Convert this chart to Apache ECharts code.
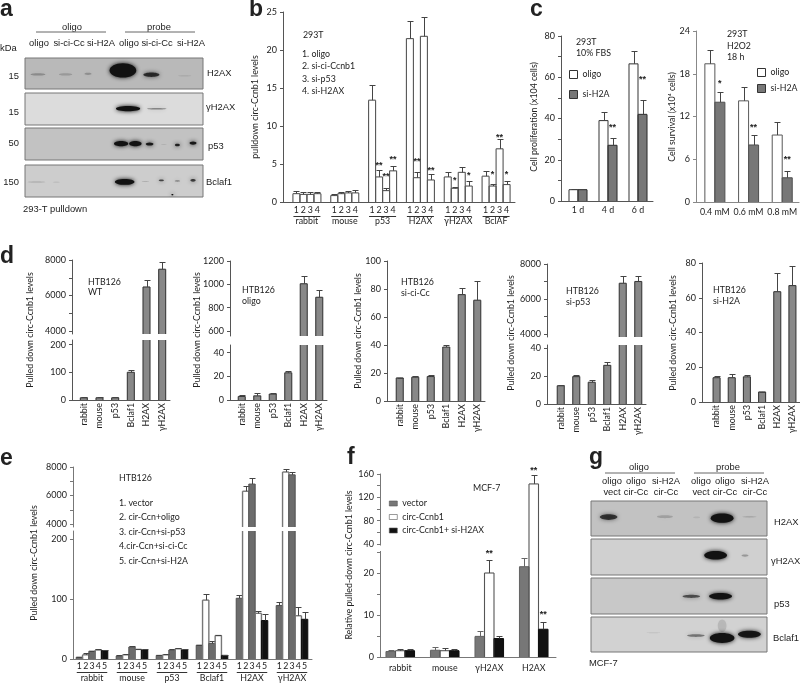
<!DOCTYPE html>
<html><head><meta charset="utf-8">
<style>html,body{margin:0;padding:0;background:#fff}#c{width:800px;height:684px;filter:blur(.35px)}</style>
<script src="https://cdn.jsdelivr.net/npm/echarts@6/dist/echarts.min.js"></script>
</head><body><div id="c"></div>
<script>
// ---------- data ----------
const bCats=['rabbit','mouse','p53','H2AX','γH2AX','BclAF'];
const bOligo=[1.1,.85,13.4,21.5,3.3,3.4], bOligoTop=[1.4,1.05,15.4,23.8,4,4.1];
const bSiCc=[1,1.1,3.3,3.2,1.8,2.1], bSiCcTop=[1.3,1.3,4.2,3.9,2,2.4];
const bSiP53=[1,1.2,1.5,21.8,3.9,7], bSiP53Top=[1.3,1.4,1.9,24.3,4.6,8.3];
const bSiH2A=[1.1,1.2,4.1,2.9,2.1,2.3], bSiH2ATop=[1.3,1.55,4.7,3.7,2.8,2.7];
const bStars=[[1,2,'**',5.1],[2,2,'**',3.6],[3,2,'**',5.9],[1,3,'**',5.6],[3,3,'**',4.4],[1,4,'*',3.15],[3,4,'*',3.7],[1,5,'*',3.9],[2,5,'**',8.75],[3,5,'*',3.9]];
const cDays=['1 d','4 d','6 d'];
const cDayOligo=[5.5,39,66.5], cDayOligoTop=[6,43,72.5];
const cDaySi=[5.5,27,42], cDaySiTop=[6,30.5,49];
const cDayStars=[[1,1,'**',36.8],[1,2,'**',60]];
const cDoses=['0.4 mM','0.6 mM','0.8 mM'];
const cDoseOligo=[19.4,14.2,9.4], cDoseOligoTop=[21.4,16.1,11.2];
const cDoseSi=[14,8,3.4], cDoseSiTop=[15.4,9.4,4.3];
const cDoseStars=[[1,0,'*',16.9],[1,1,'**',10.8],[1,2,'**',6.2]];
const dCats=['rabbit','mouse','p53','Bclaf1','H2AX','γH2AX'];
const dWT=[8,8,8,100,6480,7480], dWTTop=[10,10,10,108,6890,7870];
const dOligo=[3,3.5,5,23,1005,889], dOligoTop=[4,5.5,5.5,24.5,1075,949];
const dSiCc=[16.5,17,17.5,38.5,76,72], dSiCcTop=[16.7,18,18.5,39.8,80.5,86];
const dSiP53=[13,19.5,15.5,27.5,6900,7000], dSiP53Top=[13.5,20.5,17,30,7300,7300];
const dSiH2A=[14,14,14.5,5.8,63.5,67], dSiH2ATop=[15,16,15.5,6,74,78];
const eCats=['rabbit','mouse','p53','Bclaf1','H2AX','γH2AX'];
const e1=[3,5,6,23,101,89], e1Top=[4,6,7,24,107,95];
const e2=[7,7,7,98,6300,7650], e2Top=[10,8,8,108,6650,7870];
const e3=[13,20,15,26,6800,7450], e3Top=[14,21,16,30,7200,7620];
const e4=[15,16,17,39,76,72], e4Top=[16,17,18,40,80,87];
const e5=[14,15,15,6,64,66], e5Top=[15,16,16,7,75,78];
const fCats=['rabbit','mouse','γH2AX','H2AX'];
const fVector=[1.3,1.6,4.9,21.5], fVectorTop=[1.6,2.3,6.3,23.5];
const fCirc=[1.5,1.5,20,143], fCircTop=[2,2.1,23,159];
const fCircSi=[1.5,1.5,4.4,6.6], fCircSiTop=[1.9,1.9,5.1,8.4];
const fStars=[[1,2,'**',25],[2,3,'**',10.7]];
const fStarsUpper=[[1,3,'**',170]];
// western-blot bands: lane %, height %, half width %, half height %, darkness
const aH2AX=[[7.3,53,4.1,3.5,.26],[22.8,53,3.7,3.5,.18],[35.4,51,2,3.5,.24],[55,40,7.5,23,1],[71,54,4.5,7,.8],[89.7,57,3.7,2.5,.08]];
const aGH2AX=[[57.9,49,6.8,8,1],[74,49,5.5,2.5,.4]];
const aP53=[[54,49,4,8,1],[62,49,3.5,8,1],[70,50,2.2,5,.95],[78,52,1.5,1.5,.12],[85.6,53,1.4,4,.9],[94.4,47,2,5,.95]];
const aBclaf=[[6.4,53,5,2.5,.14],[17.6,54,2,2.5,.07],[56,53,5.5,9,1],[67.6,52,2,1.5,.2],[76.6,48,1.5,3,.7],[85.6,50,1.5,2,.4],[94.4,48,1.5,4,.75],[82.8,93,.6,2,1]];
const gH2AX=[[10,46,5,8,.75],[42,45,4.5,4,.18],[60,47,2,2.5,.08],[74.5,49,6.5,13,1],[90,45,4,2.5,.14]];
const gGH2AX=[[70.8,45,6.5,12,1],[87.5,46,2,3,.28]];
const gP53=[[57,51,5,4.5,.62],[73.6,51,6.5,9,1]];
const gBclaf=[[35.5,45,4,1.5,.08],[59.6,53,5,4,.45],[74.5,25,2.5,18,.12],[74.5,60,7,14,1],[90,49,6.5,10,.95]];

// ---------- builders ----------
const SANS='Lato,"DejaVu Sans",sans-serif', ARIAL='"Liberation Sans",sans-serif', BASE=8.8;
const grid=[],xAxis=[],yAxis=[],series=[],gfx=[],legend=[];
function T(text,x,y,o={}){gfx.push({type:'text',x,y,rotation:o.rot||0,silent:true,z:20,style:{text,fill:o.color||'#222',font:(o.bold?'bold ':'')+(o.size||BASE)+'px '+(o.font||SANS),textAlign:o.align||'left',textVerticalAlign:'middle'}});}
function A(text,x,y,o={}){T(text,x,y,Object.assign({font:ARIAL,size:9.4},o));}
function L(x1,y1,x2,y2,c='#555',w=1){gfx.push({type:'line',silent:true,z:20,shape:{x1,y1,x2,y2},style:{stroke:c,lineWidth:w}});}
function blot(left,top,w,h,bg,bands){
  const i=grid.length;
  grid.push({left,top,width:w,height:h,show:true,backgroundColor:bg,borderColor:'#777',borderWidth:1});
  xAxis.push({type:'value',gridIndex:i,min:0,max:100,show:false});
  yAxis.push({type:'value',gridIndex:i,min:0,max:100,inverse:true,show:false});
  series.push({type:'custom',xAxisIndex:i,yAxisIndex:i,data:bands,encode:{x:0,y:1},silent:true,clip:true,
    renderItem(p,api){
      const c=api.coord([api.value(0),api.value(1)]),s=api.size([api.value(2),api.value(3)],[api.value(0),api.value(1)]),col=`rgba(18,18,18,${api.value(4)})`;
      return {type:'ellipse',shape:{cx:c[0],cy:c[1],rx:Math.abs(s[0]),ry:Math.abs(s[1])},style:{fill:col,shadowBlur:4,shadowColor:col}};
    }});
}
// one coordinate system of bars; outlines, whiskers and stars are placed through the axes
function bars(o){
  const i=grid.length, n=o.rows.length;
  grid.push({left:o.left,top:o.top,width:o.width,height:o.bottom-o.top});
  const axisCol=o.axisCol||'#555';
  xAxis.push({type:'category',gridIndex:i,data:o.cats,show:!o.noX,
    axisLine:{lineStyle:{color:axisCol,width:1}},axisTick:{show:false},
    axisLabel:{interval:0,color:'#222',fontFamily:SANS,fontSize:BASE,rotate:o.rotate||0,margin:o.xMargin||6}});
  yAxis.push({type:'value',gridIndex:i,min:o.min,max:o.max,offset:o.left-o.axisX,splitLine:{show:false},
    axisLine:{show:true,lineStyle:{color:axisCol,width:1}},
    axisTick:{show:true,length:3,lineStyle:{color:axisCol},customValues:o.ticks},
    axisLabel:{color:'#222',fontFamily:SANS,fontSize:9,margin:o.labelMargin||6,customValues:o.labels,formatter:v=>String(v)}});
  if(!o.noX&&o.left>o.axisX) L(o.axisX,o.bottom+.5,o.left,o.bottom+.5,axisCol);
  o.rows.forEach((r,k)=>{
    const off=(k-(n-1)/2)*o.barW;
    series.push({name:r.name||('s'+i+k),type:'bar',xAxisIndex:i,yAxisIndex:i,data:r.vals,barWidth:o.barW,barGap:'0%',
      itemStyle:{color:r.fill,borderWidth:0},silent:true,z:2});
    series.push({type:'custom',xAxisIndex:i,yAxisIndex:i,silent:true,clip:false,z:3,
      data:r.vals.map((v,j)=>[j,r.tops[j],v]),encode:{x:0,y:1},
      renderItem(p,api){
        const a=api.coord([api.value(0),api.value(1)]),b=api.coord([api.value(0),api.value(2)]),c=p.coordSys,kids=[];
        const gb=c.y+c.height,line=r.line||'#444',lw=r.lw||1.1;
        if(b[1]<gb){ // bar reaches this panel: open-ended outline when cut by the axis break
          const xl=b[0]+off-o.barW/2,xr=b[0]+off+o.barW/2,yt=Math.max(b[1],c.y);
          kids.push({type:'line',shape:{x1:xl,y1:yt,x2:xl,y2:gb},style:{stroke:line,lineWidth:lw}});
          kids.push({type:'line',shape:{x1:xr,y1:yt,x2:xr,y2:gb},style:{stroke:line,lineWidth:lw}});
          if(b[1]>=c.y) kids.push({type:'line',shape:{x1:xl,y1:yt,x2:xr,y2:yt},style:{stroke:line,lineWidth:lw}});
        }
        if(a[1]>=c.y-1&&a[1]<=gb){
          const x=Math.round(a[0]+off)+.5,y=Math.round(a[1])+.5,by=Math.min(b[1],gb),h=o.capW||3;
          kids.push({type:'line',shape:{x1:x,y1:y,x2:x,y2:by},style:{stroke:r.err||'#444',lineWidth:1}});
          kids.push({type:'line',shape:{x1:x-h,y1:y,x2:x+h,y2:y},style:{stroke:r.err||'#444',lineWidth:1}});
        }
        return {type:'group',children:kids};
      }});
  });
  if(o.stars) series.push({type:'custom',xAxisIndex:i,yAxisIndex:i,silent:true,clip:false,z:4,
    data:o.stars.map(s=>[s[1],s[3]]),encode:{x:0,y:1},
    renderItem(p,api){
      const s=o.stars[p.dataIndex],c=api.coord([api.value(0),api.value(1)]);
      return {type:'text',x:c[0]+(s[0]-(n-1)/2)*o.barW,y:c[1]+2,style:{text:s[2],fill:'#222',font:'bold 9px '+ARIAL,textAlign:'center',textVerticalAlign:'middle'}};
    }});
  if(o.numbered) series.push({type:'custom',xAxisIndex:i,yAxisIndex:i,silent:true,clip:false,z:4,
    data:o.cats.map((c,j)=>[j,0]),encode:{x:0,y:1},
    renderItem(p,api){
      const c=api.coord([api.value(0),0]),kids=[];
      for(let k=0;k<n;k++) kids.push({type:'text',x:c[0]+(k-(n-1)/2)*o.barW,y:c[1]+o.numY,style:{text:String(k+1),fill:'#222',font:BASE+'px '+SANS,textAlign:'center',textVerticalAlign:'middle'}});
      const h=n*o.barW/2-.5,y=Math.round(c[1]+o.numY+6)+.5;
      kids.push({type:'line',shape:{x1:c[0]-h,y1:y,x2:c[0]+h,y2:y},style:{stroke:'#333',lineWidth:1}});
      return {type:'group',children:kids};
    }});
}
const tick=(a,b,s)=>{const r=[];for(let v=a;v<=b+1e-9;v+=s)r.push(v);return r;};
const grey=(vals,tops)=>[{vals,tops,fill:'#888888',line:'#3a3a3a',err:'#444'}];
const legText={fontFamily:SANS,fontSize:BASE,color:'#222'};

// ---------- panel a ----------
blot(25,58,178,31,'#b9b9b9',aH2AX); blot(25,93,178,32,'#dcdcdc',aGH2AX);
blot(25,128,178,32,'#c2c2c2',aP53); blot(25,165,178,32,'#cdcdcd',aBclaf);
T('a',0,10,{size:23,bold:true,font:ARIAL});
A('oligo',72,27,{align:'center'}); A('probe',159,27,{align:'center'});
L(36,32,106,32,'#666'); L(125,32,195,32,'#666');
[['oligo',39],['si-ci-Cc',69],['si-H2A',101],['oligo',129],['si-ci-Cc',157],['si-H2A',191]].forEach(d=>A(d[0],d[1],43,{align:'center'}));
A('kDa',0,48);
[['15',76],['15',112],['50',143],['150',182]].forEach(d=>A(d[0],19,d[1],{align:'right'}));
[['H2AX',207,73],['γH2AX',206,107],['p53',208,146],['Bclaf1',206,182]].forEach(d=>A(d[0],d[1],d[2]));
A('293-T pulldown',23,209);

// ---------- panel b ----------
bars({left:288,width:227,top:12,bottom:202,axisX:283,min:0,max:25,ticks:tick(0,25,5),labels:tick(0,25,5),cats:bCats,barW:7,numbered:true,numY:8,xMargin:15,capW:3,
  rows:[{vals:bOligo,tops:bOligoTop,fill:'#fff',line:'#555',err:'#444'},{vals:bSiCc,tops:bSiCcTop,fill:'#fff',line:'#555',err:'#444'},{vals:bSiP53,tops:bSiP53Top,fill:'#fff',line:'#555',err:'#444'},{vals:bSiH2A,tops:bSiH2ATop,fill:'#fff',line:'#555',err:'#444'}],stars:bStars});
T('b',249,10,{size:23,bold:true,font:ARIAL});
T('pulldown circ-Ccnb1 levels',255,107,{rot:Math.PI/2,align:'center'});
T('293T',303,35);
['1. oligo','2. si-ci-Ccnb1','3. si-p53','4. si-H2AX'].forEach((t,i)=>T(t,302,54+i*12.5));

// ---------- panel c ----------
T('c',530,10,{size:23,bold:true,font:ARIAL});
bars({left:563,width:90,top:36,bottom:201,axisX:561,min:0,max:80,ticks:tick(0,80,10),labels:tick(0,80,20),cats:cDays,barW:9,xMargin:5,
  rows:[{name:'oligo',vals:cDayOligo,tops:cDayOligoTop,fill:'#fff',line:'#444'},{name:'si-H2A',vals:cDaySi,tops:cDaySiTop,fill:'#777',line:'#333'}],stars:cDayStars});
T('Cell proliferation (x104 cells)',534,117,{rot:Math.PI/2,align:'center'});
T('293T',576,42);T('10% FBS',576,53);
bars({left:698,width:102,top:31,bottom:202,axisX:696,axisCol:'#888',min:0,max:24,ticks:tick(0,24,6),labels:tick(0,24,6),cats:cDoses,barW:10,xMargin:6,
  rows:[{name:'oligo',vals:cDoseOligo,tops:cDoseOligoTop,fill:'#fff',line:'#666'},{name:'si-H2A',vals:cDoseSi,tops:cDoseSiTop,fill:'#777',line:'#555'}],stars:cDoseStars});
T('Cell survival (x10⁴ cells)',672,117,{rot:Math.PI/2,align:'center'});
T('293T',727,34);T('H2O2',727,46);T('18 h',727,57);
const legC=[{name:'oligo',itemStyle:{color:'#fff',borderColor:'#333',borderWidth:1}},{name:'si-H2A',itemStyle:{color:'#777',borderColor:'#333',borderWidth:1}}];
legend.push({left:569,top:70,padding:0,orient:'vertical',data:legC,itemWidth:8,itemHeight:8,itemGap:11,icon:'rect',selectedMode:false,textStyle:legText});
legend.push({left:757,top:68,padding:0,orient:'vertical',data:legC,itemWidth:8,itemHeight:8,itemGap:7,icon:'rect',selectedMode:false,textStyle:legText});

// ---------- panel d ----------
T('d',0,257,{size:23,bold:true,font:ARIAL});
function broken(c){
  bars({left:c.left,width:c.width,top:c.uTop,bottom:c.uBot,axisX:c.axisX,min:c.uMin,max:c.uMax,ticks:c.uTicks,labels:c.uLabels,cats:dCats,barW:7,noX:true,rows:grey(c.vals,c.tops)});
  bars({left:c.left,width:c.width,top:c.lTop,bottom:c.lBot,axisX:c.axisX,min:0,max:c.lMax,ticks:c.lTicks,labels:c.lTicks,cats:dCats,barW:7,rotate:90,xMargin:3,rows:grey(c.vals,c.tops)});
}
function whole(c){
  bars({left:c.left,width:c.width,top:c.top,bottom:c.bot,axisX:c.axisX,min:0,max:c.max,ticks:c.ticks,labels:c.ticks,cats:dCats,barW:7,rotate:90,xMargin:3,rows:grey(c.vals,c.tops)});
}
broken({left:76,width:94,axisX:72,uTop:260,uBot:334,uMin:3831,uMax:8000,uTicks:tick(4000,8000,1000),uLabels:tick(4000,8000,2000),lTop:340,lBot:400,lMax:216.6,lTicks:[0,100,200],vals:dWT,tops:dWTTop});
T('Pulled down circ-Ccnb1 levels',30,330,{rot:Math.PI/2,align:'center'});
T('HTB126',88,282);T('WT',88,292);
broken({left:234,width:93,axisX:230,uTop:261,uBot:336,uMin:557,uMax:1200,uTicks:tick(600,1200,200),uLabels:tick(600,1200,200),lTop:345,lBot:400,lMax:46.5,lTicks:[0,20,40],vals:dOligo,tops:dOligoTop});
T('Pulled down circ-Ccnb1 levels',197,330,{rot:Math.PI/2,align:'center'});
T('HTB126',242,290);T('oligo',242,301);
whole({left:392,width:93,axisX:387,top:261,bot:401,max:100,ticks:tick(0,100,20),vals:dSiCc,tops:dSiCcTop});
T('Pulled down circ-Ccnb1 levels',358,331,{rot:Math.PI/2,align:'center'});
T('HTB126',401,282);T('si-ci-Cc',401,293);
broken({left:553,width:93,axisX:547,uTop:264,uBot:337,uMin:3829,uMax:8000,uTicks:tick(4000,8000,1000),uLabels:tick(4000,8000,2000),lTop:345,lBot:404,lMax:42,lTicks:[0,20,40],vals:dSiP53,tops:dSiP53Top});
T('Pulled down circ-Ccnb1 levels',511,333,{rot:Math.PI/2,align:'center'});
T('HTB126',566,291);T('si-p53',566,302);
whole({left:709,width:91,axisX:702,top:263,bot:402,max:80,ticks:tick(0,80,20),vals:dSiH2A,tops:dSiH2ATop});
T('Pulled down circ-Ccnb1 levels',673,333,{rot:Math.PI/2,align:'center'});
T('HTB126',713,290);T('si-H2A',713,301);

// ---------- panel e ----------
T('e',0,459,{size:23,bold:true,font:ARIAL});
const eRows=[{vals:e1,tops:e1Top,fill:'#6c6c6c',line:'#555'},{vals:e2,tops:e2Top,fill:'#fff',line:'#777',lw:1.4},{vals:e3,tops:e3Top,fill:'#6c6c6c',line:'#555'},{vals:e4,tops:e4Top,fill:'#fff',line:'#777',lw:1.4},{vals:e5,tops:e5Top,fill:'#111',line:'#111'}];
bars({left:72,width:240,top:467,bottom:527,axisX:73,axisCol:'#777',min:3790,max:8000,ticks:tick(4000,8000,1000),labels:tick(4000,8000,2000),cats:eCats,barW:6.3,noX:true,rows:eRows});
bars({left:72,width:240,top:531,bottom:659,axisX:73,axisCol:'#777',min:0,max:213,ticks:[0,100,200],labels:[0,100,200],cats:eCats,barW:6.3,numbered:true,numY:7,xMargin:15,rows:eRows});
T('Pulled down circ-Ccnb1 levels',34,563,{rot:Math.PI/2,align:'center'});
T('HTB126',119,478);
['1. vector','2. cir-Ccn+oligo','3. cir-Ccn+si-p53','4.cir-Ccn+si-ci-Cc','5. cir-Ccn+si-H2A'].forEach((t,i)=>T(t,119,503+i*14.5));

// ---------- panel f ----------
T('f',347,458,{size:23,bold:true,font:ARIAL});
const fRows=[{name:'vector',vals:fVector,tops:fVectorTop,fill:'#777',line:'#666',err:'#666'},{name:'circ-Ccnb1',vals:fCirc,tops:fCircTop,fill:'#fff',line:'#555'},{name:'circ-Ccnb1+ si-H2AX',vals:fCircSi,tops:fCircSiTop,fill:'#111',line:'#111'}];
bars({left:378,width:178,top:474,bottom:552,axisX:380,axisCol:'#777',min:26.3,max:160,ticks:tick(40,160,20),labels:tick(40,160,40),cats:fCats,barW:9.5,noX:true,rows:fRows,stars:fStarsUpper});
bars({left:378,width:178,top:552,bottom:657,axisX:380,axisCol:'#777',min:0,max:25,ticks:tick(0,25,5),labels:[0,10,20],cats:fCats,barW:9.5,xMargin:7,rows:fRows,stars:fStars});
L(380,545.5,380,551,'#fff',3);
T('Relative pulled-down circ-Ccnb1 levels',349,565,{rot:Math.PI/2,align:'center'});
T('MCF-7',473,488);
legend.push({left:389,top:499,padding:0,orient:'vertical',data:['vector','circ-Ccnb1','circ-Ccnb1+ si-H2AX'].map((name,i)=>({name,itemStyle:{color:fRows[i].fill,borderColor:'#555',borderWidth:.6}})),itemWidth:8,itemHeight:5,itemGap:4.5,icon:'rect',selectedMode:false,textStyle:legText});

// ---------- panel g ----------
blot(591,501,176,35,'#c2c2c2',gH2AX); blot(591,539,176,36,'#d0d0d0',gGH2AX);
blot(591,578,176,36,'#c8c8c8',gP53); blot(591,617,176,35,'#d2d2d2',gBclaf);
T('g',589,458,{size:23,bold:true,font:ARIAL});
A('oligo',639,467,{align:'center'}); A('probe',728,467,{align:'center'});
L(605,473,675,473,'#666'); L(694,473,764,473,'#666');
[['oligo','vect',612],['oligo','cir-Cc',636],['si-H2A','cir-Cc',666],['oligo','vect',701],['oligo','cir-Cc',725],['si-H2A','cir-Cc',755]].forEach(d=>{A(d[0],d[2],481,{align:'center'});A(d[1],d[2],492,{align:'center'});});
[['H2AX',774,522],['γH2AX',771,561],['p53',774,604],['Bclaf1',773,638]].forEach(d=>A(d[0],d[1],d[2]));
A('MCF-7',589,663);

const chart=echarts.init(document.getElementById('c'),null,{renderer:'canvas',width:800,height:684});
chart.setOption({animation:false,backgroundColor:'#fff',grid,xAxis,yAxis,series,legend,graphic:{elements:gfx}});
</script></body></html>
